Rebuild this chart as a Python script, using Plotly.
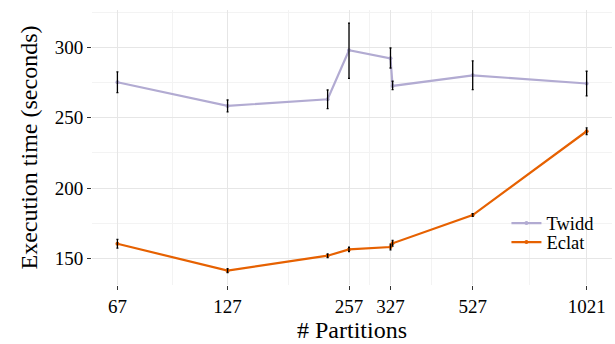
import plotly.graph_objects as go

partitions = [67, 127, 227, 257, 327, 331, 527, 1021]
x_tick_vals = [67, 127, 257, 327, 527, 1021]
x_tick_text = ["67", "127", "257", "327", "527", "1021"]

twidd_mean = [275.2, 258.4, 263.1, 297.9, 292.2, 272.6, 280.1, 274.3]
twidd_hi = [282.5, 262.6, 269.7, 317.2, 299.5, 275.9, 290.3, 283.0]
twidd_lo = [267.8, 254.1, 256.5, 278.0, 285.3, 270.0, 270.0, 265.5]

eclat_mean = [160.5, 141.4, 152.0, 156.5, 158.2, 160.8, 180.9, 240.4]
eclat_hi = [163.6, 142.8, 153.3, 158.0, 160.2, 162.8, 181.9, 242.8]
eclat_lo = [157.4, 140.0, 150.7, 155.0, 156.2, 158.8, 179.9, 238.1]

y_tick_vals = [150, 200, 250, 300]
y_minor_vals = [175, 225, 275, 325]

FONT = "Liberation Serif"

def errs(mean, hi, lo):
    return [h - m for h, m in zip(hi, mean)], [m - l for m, l in zip(mean, lo)]

fig = go.Figure()
for name, mean, hi, lo, color, leg in [
    ("Twidd", twidd_mean, twidd_hi, twidd_lo, "#b2abd2", "legend"),
    ("Eclat", eclat_mean, eclat_hi, eclat_lo, "#e66101", "legend2"),
]:
    ep, em = errs(mean, hi, lo)
    fig.add_trace(go.Scatter(
        x=partitions, y=mean, name=name, mode="lines+markers",
        line=dict(color=color, width=2.2),
        marker=dict(color=color, size=4),
        legend=leg,
    ))
    fig.add_trace(go.Scatter(
        x=partitions, y=mean, mode="markers", showlegend=False,
        marker=dict(size=0.1, color="rgba(0,0,0,0)"),
        error_y=dict(type="data", symmetric=False, array=ep, arrayminus=em,
                     color="black", thickness=1.3, width=1),
        hoverinfo="skip",
    ))

# minor x grid at geometric midpoints between labelled ticks
x_minor_vals = [(a * b) ** 0.5 for a, b in zip(x_tick_vals[:-1], x_tick_vals[1:])]

leg_common = dict(x=0.797, xanchor="left", yanchor="top",
                  bgcolor="rgba(0,0,0,0)", font=dict(size=18.5, family=FONT))

fig.update_layout(
    width=615, height=344,
    margin=dict(l=92, r=3, t=10, b=59),
    paper_bgcolor="white", plot_bgcolor="white",
    font=dict(family=FONT, size=19, color="black"),
    showlegend=True,
    legend=dict(y=0.2927, **leg_common),
    legend2=dict(y=0.2236, **leg_common),
    xaxis=dict(
        type="log", range=[1.762, 3.073], automargin=False,
        tickmode="array", tickvals=x_tick_vals, ticktext=x_tick_text,
        showgrid=True, gridcolor="#e6e6e6", gridwidth=1,
        ticks="outside", ticklen=4, tickcolor="#333333", tickwidth=1,
        showline=False, zeroline=False,
        tickfont=dict(size=19, family=FONT, color="black"),
        title=dict(text="# Partitions", font=dict(size=24, family=FONT), standoff=4),
        minor=dict(tickvals=x_minor_vals, showgrid=True, gridcolor="#f3f3f3",
                   gridwidth=0.6, ticks=""),
    ),
    yaxis=dict(
        range=[131.2, 326.5], automargin=False,
        tickmode="array", tickvals=y_tick_vals,
        showgrid=True, gridcolor="#e6e6e6", gridwidth=1,
        ticks="outside", ticklen=4, tickcolor="#333333", tickwidth=1,
        showline=False, zeroline=False,
        tickfont=dict(size=19, family=FONT, color="black"),
        title=dict(text="Execution time (seconds)", font=dict(size=24, family=FONT), standoff=10),
        minor=dict(tickvals=y_minor_vals, showgrid=True, gridcolor="#f3f3f3",
                   gridwidth=0.6, ticks=""),
    ),
)

fig.write_html("out.html", config={"displayModeBar": False},
               post_script="document.body.style.margin='0';")
